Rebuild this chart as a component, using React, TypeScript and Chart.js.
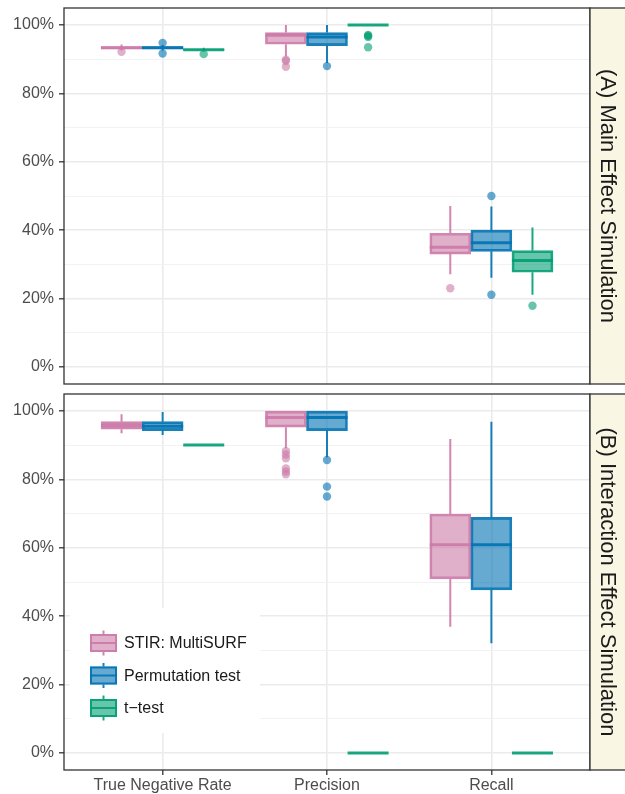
import React, { useEffect, useRef } from "react";
import { Chart, registerables } from "chart.js";
Chart.register(...registerables);

const categories = ["True Negative Rate", "Precision", "Recall"];
const methods = ["STIR: MultiSURF", "Permutation test", "t\u2212test"];
const panelTitles = ["(A) Main Effect Simulation", "(B) Interaction Effect Simulation"];
const yMajorTicks = [0, 20, 40, 60, 80, 100];
const yMinorTicks = [10, 30, 50, 70, 90];

// each row: [lower whisker, Q1, median, Q3, upper whisker] for TNR, Precision, Recall
const stirMainStats = [
  [92.6, 93.0, 93.4, 93.7, 94.3],
  [90.8, 94.4, 97.0, 97.8, 100],
  [27.1, 33.0, 35.0, 39.1, 47.1],
];
const stirMainOutliers = [[92.2], [89.9, 89.5, 87.8], [23.0]];

const permMainStats = [
  [92.6, 93.0, 93.4, 93.7, 94.2],
  [88.9, 94.0, 96.5, 97.8, 100],
  [26.1, 33.8, 36.3, 40.0, 46.9],
];
const permMainOutliers = [[94.8, 91.7], [88.0], [50.0, 21.1]];

const tMainStats = [
  [92.3, 92.7, 92.8, 92.9, 93.4],
  [100, 100, 100, 100, 100],
  [21.1, 27.7, 31.1, 34.0, 40.8],
];
const tMainOutliers = [[91.5], [97.1, 96.9, 96.5, 93.5], [17.9]];

const stirInterStats = [
  [93.5, 94.7, 95.8, 96.9, 99.1],
  [89.1, 95.3, 98.1, 100, 100],
  [36.9, 50.9, 60.9, 69.9, 91.8],
];
const stirInterOutliers = [[], [88.3, 87.3, 86.2, 83.2, 82.3, 81.5], []];

const permInterStats = [
  [93.0, 94.3, 95.6, 96.9, 99.7],
  [86.5, 94.3, 98.1, 100, 100],
  [32.1, 47.7, 60.9, 68.9, 96.9],
];
const permInterOutliers = [[], [85.7, 77.9, 75.0], []];

const tInterStats = [
  [90.1, 90.1, 90.1, 90.1, 90.1],
  [0, 0, 0, 0, 0],
  [0, 0, 0, 0, 0],
];
const tInterOutliers = [[], [], []];

const methodColors = [
  [204, 121, 167],
  [0, 114, 178],
  [0, 158, 115],
];

const FONT = "'Liberation Sans', Arial, Helvetica, sans-serif";

function rgba(c: number[], a: number) {
  return `rgba(${c[0]},${c[1]},${c[2]},${a})`;
}

function buildDatasets(stats: number[][][], outliers: number[][][]) {
  const ds: any[] = [];
  stats.forEach((mStats, m) => {
    const col = methodColors[m];
    const off = (m - 1) * 0.25;
    const whiskerData: any[] = [];
    mStats.forEach((s, c) => {
      const x = c + 1 + off;
      whiskerData.push({ x, y: s[0] }, { x, y: s[1] }, { x, y: null }, { x, y: s[3] }, { x, y: s[4] }, { x, y: null });
    });
    ds.push({
      type: "line",
      label: methods[m] + " whiskers",
      data: whiskerData,
      showLine: true,
      spanGaps: false,
      borderColor: rgba(col, 0.9),
      borderWidth: 2,
      pointRadius: 0,
      fill: false,
      order: 40 + m,
    });
    ds.push({
      type: "bar",
      label: methods[m],
      data: mStats.map((s, c) => ({ x: c + 1 + off, y: [s[1], s[3]] })),
      backgroundColor: rgba(col, 0.6),
      borderColor: rgba(col, 0.9),
      borderWidth: 2,
      borderSkipped: false,
      barThickness: 41,
      grouped: false,
      order: 30 - m,
    });
    ds.push({
      type: "scatter",
      label: methods[m] + " median",
      data: mStats.map((s, c) => ({ x: c + 1 + off, y: s[2] })),
      pointStyle: "line",
      pointRadius: 20.5,
      pointBorderColor: rgba(col, 0.9),
      pointBorderWidth: 3,
      showLine: false,
      order: 20 - m,
    });
    const od: any[] = [];
    outliers[m].forEach((vals, c) => vals.forEach((v) => od.push({ x: c + 1 + off, y: v })));
    ds.push({
      type: "scatter",
      label: methods[m] + " outliers",
      data: od,
      pointRadius: 4.2,
      pointBackgroundColor: rgba(col, 0.6),
      pointBorderWidth: 0,
      showLine: false,
      order: 10 - m,
    });
  });
  return ds;
}

function makeConfig(stats: number[][][], outliers: number[][][], title: string, isBottom: boolean): any {
  const panelPlugin = {
    id: "panelDeco" + (isBottom ? "B" : "A"),
    afterDatasetsDraw(chart: any) {
      const { ctx } = chart;
      const { left, top, right, bottom } = chart.chartArea;
      ctx.save();
      if (isBottom) {
        // legend inside panel
        const lx = 70, ly = 220, lw = 190, lh = 125;
        ctx.fillStyle = "#ffffff";
        ctx.fillRect(lx, ly, lw, lh);
        methods.forEach((name, m) => {
          const col = methodColors[m];
          const cy = 255 + m * 32.5;
          const kx = 90, kw = 27, kh = 18;
          ctx.strokeStyle = rgba(col, 0.9);
          ctx.lineWidth = 2;
          ctx.beginPath();
          ctx.moveTo(kx + kw / 2, cy - kh / 2 - 3.5);
          ctx.lineTo(kx + kw / 2, cy - kh / 2);
          ctx.moveTo(kx + kw / 2, cy + kh / 2);
          ctx.lineTo(kx + kw / 2, cy + kh / 2 + 3.5);
          ctx.stroke();
          ctx.fillStyle = rgba(col, 0.6);
          ctx.fillRect(kx, cy - kh / 2, kw, kh);
          ctx.strokeRect(kx + 1, cy - kh / 2 + 1, kw - 2, kh - 2);
          ctx.beginPath();
          ctx.moveTo(kx, cy);
          ctx.lineTo(kx + kw, cy);
          ctx.stroke();
          ctx.fillStyle = "#1a1a1a";
          ctx.font = `16px ${FONT}`;
          ctx.textAlign = "left";
          ctx.textBaseline = "middle";
          ctx.fillText(name, 124, cy + 1);
        });
      }
      // panel border
      ctx.strokeStyle = "#333333";
      ctx.lineWidth = 1.3;
      ctx.strokeRect(left, top, right - left, bottom - top);
      // strip
      ctx.fillStyle = "#F9F7E4";
      ctx.fillRect(right, top, chart.width - right + 5, bottom - top);
      ctx.strokeRect(right, top, chart.width - right + 5, bottom - top);
      ctx.translate(right + 17.5, (top + bottom) / 2);
      ctx.rotate(Math.PI / 2);
      ctx.fillStyle = "#1a1a1a";
      ctx.font = `22px ${FONT}`;
      ctx.textAlign = "center";
      ctx.textBaseline = "middle";
      ctx.fillText(title, 0, 0);
      ctx.restore();
    },
  };

  const allY = [...yMajorTicks, ...yMinorTicks].sort((a, b) => a - b);

  return {
    type: "scatter",
    data: { datasets: buildDatasets(stats, outliers) },
    options: {
      responsive: false,
      animation: false,
      events: [],
      layout: {
        autoPadding: false,
        padding: isBottom ? { left: 0, top: 6, right: 35, bottom: 0 } : { left: 0, top: 8, right: 35, bottom: 4 },
      },
      plugins: { legend: { display: false }, tooltip: { enabled: false } },
      scales: {
        x: {
          type: "linear",
          min: 0.4,
          max: 3.6,
          offset: false,
          afterBuildTicks: (s: any) => {
            s.ticks = categories.map((_, i) => ({ value: i + 1 }));
          },
          afterFit: (s: any) => {
            s.height = isBottom ? 24 : 0;
            s.paddingLeft = 0;
            s.paddingRight = 0;
            s.paddingTop = 0;
            s.paddingBottom = 0;
          },
          border: { display: false },
          grid: {
            color: "#EBEBEB",
            lineWidth: 1.6,
            drawTicks: isBottom,
            tickLength: 5,
            tickColor: "#333333",
            tickWidth: 1.3,
            offset: false,
          },
          ticks: {
            display: isBottom,
            autoSkip: false,
            maxRotation: 0,
            padding: 1,
            color: "#4D4D4D",
            font: { size: 16, family: FONT },
            callback: (v: any) => categories[Math.round(v) - 1] ?? "",
          },
        },
        y: {
          type: "linear",
          min: -5,
          max: 105,
          afterBuildTicks: (s: any) => {
            s.ticks = allY.map((v) => ({ value: v }));
          },
          afterFit: (s: any) => {
            s.width = 64;
            s.paddingTop = 0;
            s.paddingBottom = 0;
            s.paddingLeft = 0;
            s.paddingRight = 0;
          },
          border: { display: false },
          grid: {
            color: (c: any) => (c.tick && yMajorTicks.includes(c.tick.value) ? "#EBEBEB" : "#F0F0F0"),
            lineWidth: (c: any) => (c.tick && yMajorTicks.includes(c.tick.value) ? 1.6 : 0.9),
            tickColor: (c: any) => (c.tick && yMajorTicks.includes(c.tick.value) ? "#333333" : "rgba(0,0,0,0)"),
            tickLength: 5,
            tickWidth: 1.3,
            drawTicks: true,
          },
          ticks: {
            autoSkip: false,
            padding: 5,
            color: "#4D4D4D",
            font: { size: 16, family: FONT },
            callback: (v: any) => (yMajorTicks.includes(v) ? v + "%" : ""),
          },
        },
      },
    },
    plugins: [panelPlugin],
  };
}

export default function App() {
  const refA = useRef<HTMLCanvasElement>(null);
  const refB = useRef<HTMLCanvasElement>(null);
  useEffect(() => {
    document.body.style.margin = "0";
    const a = new Chart(
      refA.current as HTMLCanvasElement,
      makeConfig([stirMainStats, permMainStats, tMainStats], [stirMainOutliers, permMainOutliers, tMainOutliers], panelTitles[0], false)
    );
    const b = new Chart(
      refB.current as HTMLCanvasElement,
      makeConfig([stirInterStats, permInterStats, tInterStats], [stirInterOutliers, permInterOutliers, tInterOutliers], panelTitles[1], true)
    );
    return () => {
      a.destroy();
      b.destroy();
    };
  }, []);
  return (
    <div style={{ position: "relative", width: 625, height: 794, background: "#ffffff" }}>
      <canvas ref={refA} width={625} height={388} style={{ position: "absolute", left: 0, top: 0 }} />
      <canvas ref={refB} width={625} height={406} style={{ position: "absolute", left: 0, top: 388 }} />
    </div>
  );
}
